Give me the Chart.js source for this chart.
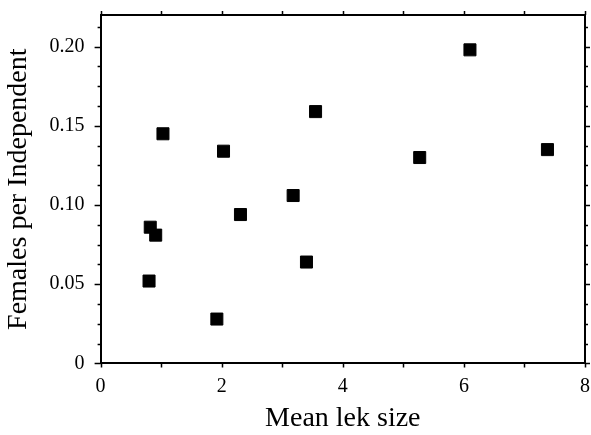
<!DOCTYPE html>
<html>
<head>
<meta charset="utf-8">
<script src="https://cdn.jsdelivr.net/npm/chart.js@4/dist/chart.umd.min.js"></script>
<style>
  html, body { margin: 0; padding: 0; background: #fff; overflow: hidden; }
</style>
</head>
<body>
<canvas id="lekChart" width="591" height="435"></canvas>
<script>
const lekSize = [6.10, 3.55, 1.03, 2.03, 5.27, 7.38, 3.18, 2.31, 0.82, 0.91, 3.40, 0.80, 1.92];
const femalesPerIndependent = [0.198, 0.159, 0.145, 0.134, 0.130, 0.135, 0.106, 0.094, 0.086, 0.081, 0.064, 0.052, 0.028];

const xTickValues = [0, 2, 4, 6, 8];
const yTickValues = [0, 0.05, 0.10, 0.15, 0.20];
const xTitle = 'Mean lek size';
const yTitle = 'Females per Independent';

const serif = "'Liberation Serif', 'Times New Roman', serif";

// frame + tick marks on all four sides
const frameTicks = {
    id: 'frameTicks',
    afterDraw(chart) {
        const c = chart.ctx;
        const a = chart.chartArea;
        const xs = chart.scales.x, ys = chart.scales.y;
        c.save();
        c.strokeStyle = '#000';
        c.lineWidth = 2;
        c.beginPath();
        c.moveTo(a.left, a.top);
        c.lineTo(a.right, a.top);
        c.lineTo(a.right, a.bottom);
        c.stroke();
        c.lineWidth = 1.5;
        c.beginPath();
        for (let v = 0; v <= ys.max + 1e-9; v += 0.0125) {
            const y = Math.round(ys.getPixelForValue(v)) + 0.5;
            const major = Math.abs(v / 0.05 - Math.round(v / 0.05)) < 1e-6;
            c.moveTo(a.left, y);
            c.lineTo(a.left - (major ? 6 : 3), y);
            c.moveTo(a.right, y);
            c.lineTo(a.right + (major ? 5 : 3), y);
        }
        for (let v = 0; v <= xs.max; v += 1) {
            const x = Math.round(xs.getPixelForValue(v)) + 0.5;
            c.moveTo(x, a.bottom);
            c.lineTo(x, a.bottom + 4);
            c.moveTo(x, a.top);
            c.lineTo(x, a.top - 4);
        }
        c.stroke();
        c.restore();
    }
};

// no label overhang padding, the layout padding sets the plot frame
const noOverhang = s => {
    s.paddingTop = 0;
    s.paddingBottom = 0;
    s.paddingLeft = 0;
    s.paddingRight = 0;
};

new Chart(document.getElementById('lekChart'), {
    type: 'scatter',
    data: {
        datasets: [{
            data: lekSize.map((x, i) => ({ x: x, y: femalesPerIndependent[i] })),
            pointStyle: 'rect',
            pointRadius: 8.5,
            pointHoverRadius: 8.5,
            backgroundColor: '#000',
            borderColor: '#000',
            borderWidth: 1
        }]
    },
    options: {
        responsive: false,
        animation: false,
        layout: { autoPadding: false, padding: { left: 0, right: 6, top: 15, bottom: 0 } },
        plugins: { legend: { display: false }, tooltip: { enabled: false } },
        scales: {
            x: {
                type: 'linear',
                min: 0,
                max: 8,
                afterBuildTicks: s => { s.ticks = xTickValues.map(v => ({ value: v })); },
                afterFit: noOverhang,
                grid: { display: false },
                border: { display: true, color: '#000', width: 2 },
                ticks: {
                    color: '#000',
                    padding: 3,
                    maxRotation: 0,
                    font: { family: serif, size: 20 },
                    callback: v => String(v)
                },
                title: {
                    display: true,
                    text: xTitle,
                    color: '#000',
                    font: { family: serif, size: 28 },
                    padding: { top: 0, bottom: 0 }
                }
            },
            y: {
                min: 0,
                max: 0.22,
                afterBuildTicks: s => { s.ticks = yTickValues.map(v => ({ value: v })); },
                afterFit: noOverhang,
                grid: { display: false },
                border: { display: true, color: '#000', width: 2 },
                ticks: {
                    color: '#000',
                    padding: 8,
                    font: { family: serif, size: 20 },
                    callback: v => v === 0 ? '0' : v.toFixed(2)
                },
                title: {
                    display: true,
                    text: yTitle,
                    color: '#000',
                    font: { family: serif, size: 28 },
                    padding: { top: 2, bottom: 6 }
                }
            }
        }
    },
    plugins: [frameTicks]
});
</script>
</body>
</html>
